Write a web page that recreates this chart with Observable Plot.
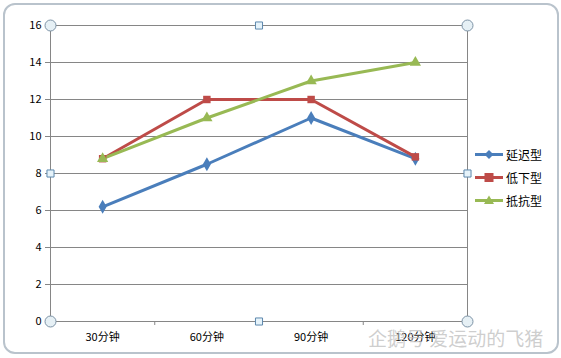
<!DOCTYPE html>
<html>
<head>
<meta charset="utf-8">
<script src="https://cdn.jsdelivr.net/npm/d3@7"></script>
<script src="https://cdn.jsdelivr.net/npm/@observablehq/plot@0.6"></script>
<style>
  body { margin: 0; background: #fff; }
  #wrap { position: relative; width: 561px; height: 358px; overflow: hidden; font-family: "Noto Sans CJK SC", "DejaVu Sans", sans-serif; }
  #frame { position: absolute; left: 3px; top: 3px; width: 552px; height: 347px; border: 2px solid #b9c3cc; border-radius: 12px; pointer-events: none; }
  #legend { position: absolute; left: 475px; top: 143px; font-size: 12px; color: #000; }
  .item { display: flex; align-items: center; height: 23px; }
  .item svg { margin-right: 3px; }
  #wm { position: absolute; left: 368px; top: 324px; font-size: 19px; color: rgba(190,190,190,0.75); white-space: nowrap; }
  #chart { position: absolute; left: 0; top: 0; }
</style>
</head>
<body>
<div id="wrap">
  <div id="chart"></div>
  <div id="frame"></div>
  <div id="legend"></div>
  <div id="wm">企鹅号 爱运动的飞猪</div>
</div>
<script>
const categories = ["30分钟", "60分钟", "90分钟", "120分钟"];
const seriesNames = ["延迟型", "低下型", "抵抗型"];
const delayed = [6.2, 8.5, 11, 8.8];
const low = [8.8, 12, 12, 8.9];
const resist = [8.8, 11, 13, 14];
const seriesColors = ["#4a7ebb", "#be4b48", "#98b954"];
const seriesSymbols = ["diamond", "square", "triangle"];
const yTicks = [0, 2, 4, 6, 8, 10, 12, 14, 16];

const seriesValues = [delayed, low, resist];
const data = [];
seriesNames.forEach((s, si) => {
  seriesValues[si].forEach((v, i) => data.push({series: s, idx: i + 0.5, value: v}));
});

const n = categories.length;
const yMax = yTicks[yTicks.length - 1];
const circles = [[0, yMax], [n, yMax], [0, 0], [n, 0]];
const squares = [[n / 2, yMax], [0, yMax / 2], [n, yMax / 2], [n / 2, 0]];

const chart = Plot.plot({
  width: 561,
  height: 358,
  marginLeft: 50,
  marginRight: 94,
  marginTop: 25,
  marginBottom: 37,
  style: {fontFamily: "'Noto Sans CJK SC', 'DejaVu Sans', sans-serif", fontSize: "11px", color: "#000", background: "transparent"},
  x: {domain: [0, n], axis: null},
  y: {domain: [0, yMax], axis: null},
  color: {domain: seriesNames, range: seriesColors},
  symbol: {domain: seriesNames, range: seriesSymbols},
  marks: [
    Plot.gridY(yTicks, {stroke: "#868686", strokeOpacity: 1, strokeWidth: 1}),
    Plot.ruleX([0, n], {stroke: "#868686", strokeWidth: 1}),
    Plot.axisY(yTicks, {label: null, tickSize: 5, tickPadding: 4, stroke: "#868686", fill: "#000", fontSize: 11}),
    Plot.axisX(d3.range(0, n + 1), {label: null, tickSize: 4, tickFormat: () => "", stroke: "#868686"}),
    Plot.axisX(categories.map((c, i) => i + 0.5), {label: null, tickSize: 0, tickPadding: 12, tickFormat: d => categories[Math.floor(d)], fill: "#000", fontSize: 11}),
    Plot.line(data, {x: "idx", y: "value", z: "series", stroke: "series", strokeWidth: 3}),
    Plot.dot(data, {x: "idx", y: "value", symbol: "series", fill: "series", r: 4.2}),
    Plot.dot(circles, {x: d => d[0], y: d => d[1], r: 5.5, fill: "#e6f0f5", stroke: "#7d93a6", strokeWidth: 1}),
    Plot.dot(squares, {x: d => d[0], y: d => d[1], symbol: "square", r: 4, fill: "#e6f3fa", stroke: "#5d88ad", strokeWidth: 1})
  ]
});
document.getElementById("chart").appendChild(chart);

const legend = document.getElementById("legend");
seriesNames.forEach((s, i) => {
  const item = document.createElement("div");
  item.className = "item";
  const c = seriesColors[i];
  let marker = "";
  if (seriesSymbols[i] === "diamond") marker = `<path d="M14,5 L18.5,9.5 L14,14 L9.5,9.5Z" fill="${c}"/>`;
  else if (seriesSymbols[i] === "square") marker = `<rect x="9.5" y="5" width="9" height="9" fill="${c}"/>`;
  else marker = `<path d="M14,4.5 L19,13 L9,13Z" fill="${c}"/>`;
  item.innerHTML = `<svg width="28" height="19"><line x1="0" x2="28" y1="9.5" y2="9.5" stroke="${c}" stroke-width="3"/>${marker}</svg><span>${s}</span>`;
  legend.appendChild(item);
});
</script>
</body>
</html>
